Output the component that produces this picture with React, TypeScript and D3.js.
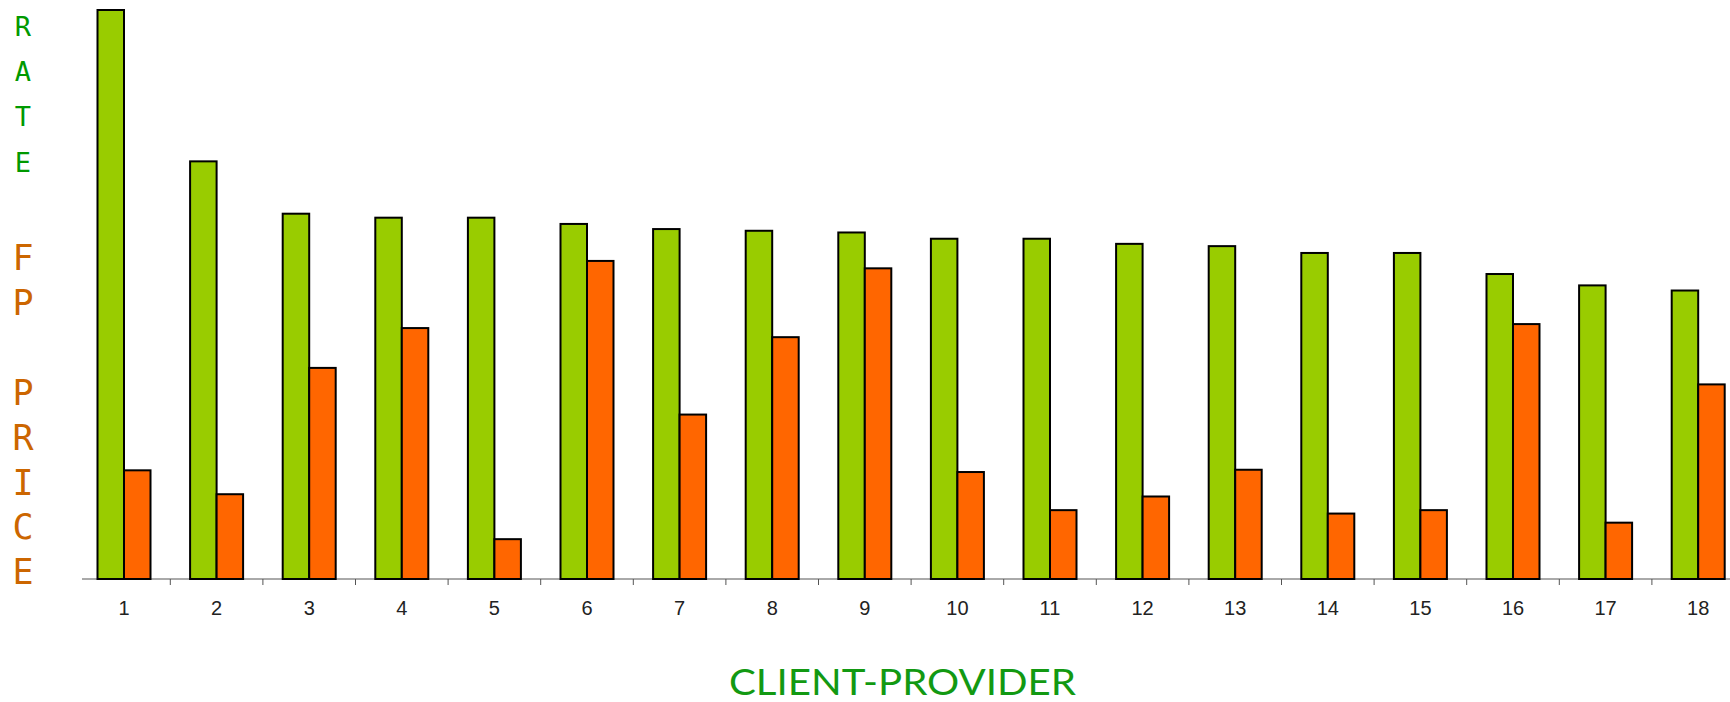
import React from "react";
import * as d3 from "d3";

const categories: string[] = ["1","2","3","4","5","6","7","8","9","10","11","12","13","14","15","16","17","18"];
const rateValues: number[] = [100, 73.4, 64.2, 63.5, 63.5, 62.4, 61.5, 61.2, 60.9, 59.8, 59.8, 58.9, 58.5, 57.3, 57.3, 53.6, 51.6, 50.7];
const priceValues: number[] = [19.1, 14.9, 37.1, 44.1, 7.0, 55.9, 28.9, 42.5, 54.6, 18.8, 12.1, 14.5, 19.2, 11.5, 12.1, 44.8, 9.9, 34.2];
const seriesKeys: string[] = ["rate", "price"];
const yLabelTop: string[] = ["R", "A", "T", "E"];
const yLabelBottom: string[] = ["F", "P", "", "P", "R", "I", "C", "E"];
const xTitle = "CLIENT-PROVIDER";

const W = 1730;
const H = 702;
const baseY = 579;
const topY = 10;
const bandStart = 77.7;
const bandStep = 92.6;
const barW = 26.5;

export default function App() {
  const x = d3
    .scaleBand<string>()
    .domain(categories)
    .range([bandStart, bandStart + bandStep * categories.length])
    .paddingInner(0)
    .paddingOuter(0);
  const bw = x.bandwidth();
  const xSub = d3
    .scaleBand<string>()
    .domain(seriesKeys)
    .range([bw / 2 - barW, bw / 2 + barW])
    .padding(0);
  const y = d3.scaleLinear().domain([0, 100]).range([baseY, topY]);
  const colors: Record<string, string> = { rate: "#99cc00", price: "#ff6600" };
  const vals: Record<string, number[]> = { rate: rateValues, price: priceValues };

  const tickXs = categories.slice(1).map((c) => x(c)!);

  return (
    <svg
      width={W}
      height={H}
      style={{ position: "absolute", left: 0, top: 0, background: "#fff" }}
    >
      <line x1={82} x2={W} y1={baseY} y2={baseY} stroke="#555" strokeWidth={1} />
      {tickXs.map((tx, i) => (
        <line key={"t" + i} x1={tx} x2={tx} y1={baseY} y2={baseY + 6} stroke="#555" strokeWidth={1} />
      ))}
      {categories.map((c, i) => (
        <g key={c} transform={`translate(${x(c)},0)`}>
          {seriesKeys.map((k) => {
            const v = vals[k][i];
            return (
              <rect
                key={k}
                x={xSub(k)!}
                y={y(v)}
                width={xSub.bandwidth()}
                height={baseY - y(v)}
                fill={colors[k]}
                stroke="#000"
                strokeWidth={2}
              />
            );
          })}
        </g>
      ))}
      {categories.map((c) => (
        <text
          key={"l" + c}
          x={x(c)! + bw / 2}
          y={615}
          textAnchor="middle"
          fontFamily="'Liberation Sans', Arial, sans-serif"
          fontSize={20}
          fill="#222"
        >
          {c}
        </text>
      ))}
      {yLabelTop.map((ch, i) => (
        <text
          key={"yt" + i}
          x={23}
          y={35.7 + i * 45.3}
          textAnchor="middle"
          fontFamily="'DejaVu Sans Mono', monospace"
          fontSize={27}
          fill="#009900"
        >
          {ch}
        </text>
      ))}
      {yLabelBottom.map((ch, i) => (
        <text
          key={"yb" + i}
          x={23}
          y={270 + i * 44.9}
          textAnchor="middle"
          fontFamily="'DejaVu Sans Mono', monospace"
          fontSize={35}
          fill="#cc6600"
        >
          {ch}
        </text>
      ))}
      <text
        x={902.5}
        y={695}
        textAnchor="middle"
        fontFamily="Lato, 'Open Sans', sans-serif"
        fontSize={37}
        fill="#129912"
        textLength={347}
        lengthAdjust="spacingAndGlyphs"
      >
        {xTitle}
      </text>
    </svg>
  );
}
